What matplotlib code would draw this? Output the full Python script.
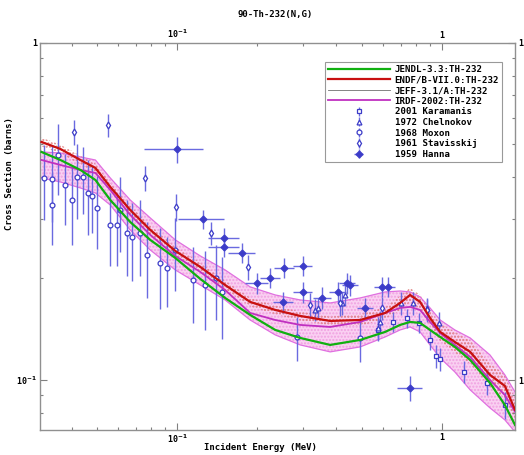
import matplotlib
matplotlib.use("Agg")
import matplotlib.pyplot as plt
import numpy as np

# evaluated curves, energy in MeV, cross section in barns
energy = [0.0308, 0.0363, 0.0432, 0.0492, 0.0560, 0.0666, 0.0793, 0.0986, 0.1225, 0.152,
          0.189, 0.235, 0.292, 0.379, 0.492, 0.611, 0.696, 0.759, 0.828, 0.903,
          0.986, 1.12, 1.28, 1.52, 1.73, 1.89]
jendl = [0.4749, 0.4495, 0.4199, 0.3922, 0.3420, 0.2943, 0.2603, 0.2301, 0.1994, 0.1751,
         0.1559, 0.1407, 0.1332, 0.1270, 0.1314, 0.1388, 0.1456, 0.1486, 0.1476, 0.1407,
         0.1341, 0.1253, 0.1146, 0.0980, 0.0843, 0.0735]
endf = [0.5085, 0.4847, 0.4495, 0.4257, 0.3739, 0.3195, 0.2787, 0.2414, 0.2164, 0.1913,
        0.1704, 0.1613, 0.1548, 0.1496, 0.1506, 0.1580, 0.1692, 0.1787, 0.1704, 0.1527,
        0.1388, 0.1296, 0.1211, 0.1035, 0.0960, 0.0815]
endf_rel = [0.03, 0.03, 0.03, 0.03, 0.03, 0.03, 0.03, 0.03, 0.03, 0.03,
            0.03, 0.03, 0.03, 0.03, 0.04, 0.04, 0.05, 0.05, 0.05, 0.05,
            0.06, 0.07, 0.08, 0.08, 0.08, 0.08]
irdf = [0.4495, 0.4345, 0.4199, 0.4114, 0.3663, 0.3088, 0.2694, 0.2333, 0.2091, 0.1849,
        0.1580, 0.1506, 0.1456, 0.1436, 0.1486, 0.1580, 0.1635, 0.1647, 0.1613, 0.1486,
        0.1378, 0.1270, 0.1170, 0.1000, 0.0902, 0.0804]
irdf_hi = [0.4749, 0.4716, 0.4588, 0.4495, 0.3976, 0.3420, 0.3025, 0.2603, 0.2333, 0.2120,
           0.1888, 0.1787, 0.1727, 0.1692, 0.1751, 0.1824, 0.1836, 0.1824, 0.1763, 0.1635,
           0.1506, 0.1407, 0.1332, 0.1186, 0.1035, 0.0921]
irdf_lo = [0.3976, 0.3869, 0.3713, 0.3589, 0.3306, 0.2787, 0.2430, 0.2120, 0.1913, 0.1727,
           0.1506, 0.1360, 0.1270, 0.1211, 0.1253, 0.1341, 0.1407, 0.1436, 0.1388, 0.1270,
           0.1162, 0.1056, 0.0934, 0.0826, 0.0761, 0.0701]

# experiments
kar_e = [0.575, 0.655, 0.740, 0.821, 0.903, 0.952, 0.985, 1.214, 1.482, 1.734]
kar_xs = [0.1407, 0.1486, 0.1528, 0.1476, 0.1314, 0.1178, 0.1154, 0.1056, 0.0980, 0.0843]
kar_err = [0.010, 0.010, 0.010, 0.010, 0.009, 0.009, 0.009, 0.008, 0.008, 0.008]

chel_e = [0.3325, 0.3413, 0.4205, 0.4316, 0.575, 0.585, 0.702, 0.779, 0.880, 0.977]
chel_xs = [0.1613, 0.1635, 0.1692, 0.1788, 0.1427, 0.1486, 0.1692, 0.1692, 0.1635, 0.1476]
chel_err = [0.012, 0.012, 0.013, 0.013, 0.011, 0.011, 0.013, 0.013, 0.012, 0.011]

mox_e = [0.0316, 0.0336, 0.0338, 0.0357, 0.0379, 0.0403, 0.0420, 0.0443, 0.0463, 0.0479,
         0.0500, 0.0560, 0.0595, 0.0611, 0.0650, 0.0678, 0.0727, 0.0772, 0.0865, 0.0919,
         0.0985, 0.115, 0.128, 0.140, 0.148, 0.284, 0.492]
mox_xs = [0.398, 0.395, 0.331, 0.465, 0.379, 0.342, 0.400, 0.400, 0.359, 0.352,
          0.324, 0.288, 0.288, 0.320, 0.273, 0.266, 0.273, 0.235, 0.222, 0.215,
          0.243, 0.198, 0.191, 0.201, 0.182, 0.134, 0.133]
mox_err = [0.10, 0.10, 0.08, 0.11, 0.09, 0.09, 0.10, 0.09, 0.09, 0.08,
           0.08, 0.07, 0.07, 0.08, 0.07, 0.07, 0.07, 0.06, 0.06, 0.05,
           0.06, 0.05, 0.05, 0.05, 0.05, 0.02, 0.02]

stav_e = [0.0410, 0.0551, 0.0759, 0.0994, 0.1347, 0.1858, 0.3184, 0.4133, 0.595, 0.880]
stav_xs = [0.5445, 0.5710, 0.3976, 0.3261, 0.2730, 0.2164, 0.1670, 0.1692, 0.1635, 0.1613]
stav_err = [0.045, 0.045, 0.035, 0.030, 0.022, 0.018, 0.014, 0.014, 0.013, 0.013]

hanna_e = [0.1003, 0.1257, 0.1509, 0.1509, 0.1764, 0.2009, 0.2250, 0.2541, 0.2996, 0.2996,
           0.2519, 0.3533, 0.4062, 0.4391, 0.4508, 0.595, 0.627, 0.5136, 0.759]
hanna_xs = [0.4846, 0.3003, 0.2638, 0.2481, 0.2381, 0.1940, 0.2008, 0.2150, 0.2180, 0.1824,
            0.1704, 0.1751, 0.1824, 0.1940, 0.1913, 0.1888, 0.1888, 0.1635, 0.0947]
hanna_dx = [0.025, 0.025, 0.020, 0.020, 0.020, 0.020, 0.020, 0.022, 0.025, 0.025,
            0.022, 0.028, 0.030, 0.030, 0.030, 0.040, 0.040, 0.035, 0.080]
hanna_dy = [0.043, 0.020, 0.018, 0.017, 0.016, 0.014, 0.014, 0.015, 0.015, 0.013,
            0.012, 0.013, 0.013, 0.014, 0.014, 0.013, 0.013, 0.012, 0.008]

blue = '#3c3cc8'
mono = 'DejaVu Sans Mono'
plt.rcParams['font.family'] = mono
plt.rcParams['font.weight'] = 'bold'
plt.rcParams['font.size'] = 6

fig = plt.figure(figsize=(5.24, 4.55), dpi=100)
ax = fig.add_axes([40/524, 1 - 430/455, 475/524, 387/455])

e = np.array(energy)
ax.fill_between(e, irdf_lo, irdf_hi, facecolor='#fad0f2', edgecolor='none', zorder=1)
ax.fill_between(e, irdf_lo, irdf_hi, facecolor='none', edgecolor='#f0a0e0', hatch='.....',
                linewidth=0, zorder=1)
ax.plot(e, irdf_hi, color='#e070e0', lw=0.9, zorder=2)
ax.plot(e, irdf_lo, color='#e070e0', lw=0.9, zorder=2)
en = np.array(endf)
rel = np.array(endf_rel)
ax.fill_between(e, en * (1 - rel), en * (1 + rel), facecolor='none', edgecolor='#e08080',
                hatch='.....', linewidth=0, zorder=1.5)

kw = dict(color=blue, ecolor='#6a6ae0', elinewidth=1.0, capsize=0, linestyle='none',
          markersize=3.5, markeredgewidth=0.9, zorder=2.5)
ax.errorbar(kar_e, kar_xs, yerr=kar_err, fmt='s', mfc='white', label='2001 Karamanis', **kw)
ax.errorbar(chel_e, chel_xs, yerr=chel_err, fmt='^', mfc='white', label='1972 Chelnokov', **kw)
ax.errorbar(mox_e, mox_xs, yerr=mox_err, fmt='o', mfc='white', label='1968 Moxon', **kw)
ax.errorbar(stav_e, stav_xs, yerr=stav_err, fmt='d', mfc='white', label='1961 Stavisskij', **kw)
ax.errorbar(hanna_e, hanna_xs, xerr=hanna_dx, yerr=hanna_dy, fmt='D', mfc='#3c3cc8',
            label='1959 Hanna', **kw)

ax.plot(e, jendl, color='#10b010', lw=1.6, zorder=3, label='JENDL-3.3:TH-232')
ax.plot(e, endf, color='#c81010', lw=1.6, zorder=3.2, label='ENDF/B-VII.0:TH-232')
ax.plot(e, endf, color='#707070', lw=0.6, zorder=3.1, label='JEFF-3.1/A:TH-232')
ax.plot(e, irdf, color='#c030c0', lw=1.3, zorder=2.9, label='IRDF-2002:TH-232')

ax.set_xscale('log')
ax.set_yscale('log')
ax.set_xlim(0.0304, 1.89)
ax.set_ylim(0.0710, 1.0)

ax.set_xticks([0.1, 1])
ax.set_xticklabels(['10$^{-1}$', '1'])
ax.set_yticks([0.1, 1])
ax.set_yticklabels(['10$^{-1}$', '1'])
ax.tick_params(which='both', direction='in', top=True, right=True,
               labeltop=True, labelright=True, color='#808080', pad=2)
ax.tick_params(which='major', length=5, width=0.8)
ax.tick_params(which='minor', length=2.5, width=0.8, labelbottom=False, labeltop=False,
               labelleft=False, labelright=False)
for s in ax.spines.values():
    s.set_color('#909090')
    s.set_linewidth(1.0)

handles, labels = ax.get_legend_handles_labels()
order = [labels.index(n) for n in ['JENDL-3.3:TH-232', 'ENDF/B-VII.0:TH-232',
                                   'JEFF-3.1/A:TH-232', 'IRDF-2002:TH-232',
                                   '2001 Karamanis', '1972 Chelnokov', '1968 Moxon',
                                   '1961 Stavisskij', '1959 Hanna']]
leg = ax.legend([handles[i] for i in order], [labels[i] for i in order],
                loc='upper right', bbox_to_anchor=(0.983, 0.964), fontsize=6.6,
                frameon=True, fancybox=False, edgecolor='#808080', handlelength=6.8,
                borderpad=0.35, labelspacing=0.18, handletextpad=0.5)
leg.get_frame().set_linewidth(0.8)

fig.text(275/524, 1 - 15/455, '90-Th-232(N,G)', ha='center', va='center', fontsize=6.5)
fig.text(260/524, 1 - 448/455, 'Incident Energy (MeV)', ha='center', va='center', fontsize=6.5)
fig.text(10/524, 1 - 174/455, 'Cross Section (barns)', ha='center', va='center',
         rotation=90, fontsize=6.5)

fig.savefig('out.png', dpi=100)
